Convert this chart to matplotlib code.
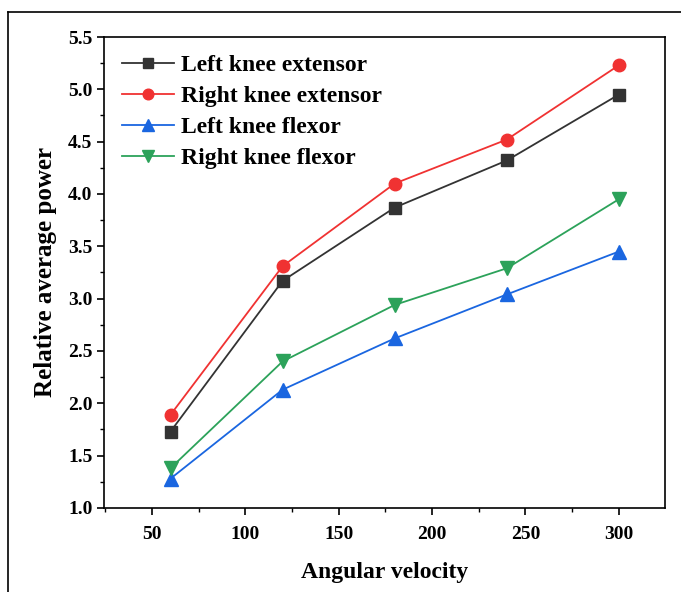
import matplotlib
matplotlib.use('Agg')
import matplotlib.pyplot as plt
from matplotlib.lines import Line2D
from matplotlib.ticker import MultipleLocator

velocity = [60, 120, 180, 240, 300]
left_ext = [1.73, 3.17, 3.87, 4.32, 4.95]
right_ext = [1.89, 3.31, 4.10, 4.52, 5.23]
left_flex = [1.28, 2.13, 2.62, 3.04, 3.45]
right_flex = [1.38, 2.40, 2.94, 3.29, 3.95]

plt.rcParams['font.family'] = 'Liberation Serif'
plt.rcParams['font.weight'] = 'bold'

fig = plt.figure(figsize=(6.81, 5.92), dpi=100)
ax = fig.add_axes([0.153, 0.142, 0.823, 0.7955])

ax.plot(velocity, left_ext, color='#333333', marker='s', markersize=8, lw=1.3, label='Left knee extensor')
ax.plot(velocity, right_ext, color='#f03232', marker='o', markersize=9, lw=1.3, label='Right knee extensor')
ax.plot(velocity, left_flex, color='#1a66e0', marker='^', markersize=10, lw=1.3, label='Left knee flexor')
ax.plot(velocity, right_flex, color='#2ca25a', marker='v', markersize=10, lw=1.3, label='Right knee flexor')

ax.set_xlim(24.5, 324.5)
ax.set_ylim(1.0, 5.5)
ax.xaxis.set_major_locator(MultipleLocator(50))
ax.xaxis.set_minor_locator(MultipleLocator(25))
ax.yaxis.set_major_locator(MultipleLocator(0.5))
ax.yaxis.set_minor_locator(MultipleLocator(0.25))
ax.yaxis.set_major_formatter('{x:.1f}')
ax.tick_params(which='major', direction='out', length=5, width=1.2, labelsize=14)
ax.tick_params(axis='x', which='major', pad=8)
ax.tick_params(which='minor', direction='out', length=3, width=1.0)
for s in ax.spines.values():
    s.set_linewidth(1.2)

ax.set_xlabel('Angular velocity', fontsize=17, fontweight='bold', labelpad=14)
ax.set_ylabel('Relative average power', fontsize=18, fontweight='bold', labelpad=8)

ax.legend(loc='upper left', frameon=False, fontsize=17, handlelength=2.2,
          borderaxespad=0.35, labelspacing=0.4, handletextpad=0.3, markerscale=0.85)

# outer frame
fig.add_artist(Line2D([8/681, 8/681], [0, 1 - 12/592], color='black', lw=1.2))
fig.add_artist(Line2D([8/681, 1], [1 - 12/592, 1 - 12/592], color='black', lw=1.2))

fig.savefig('out.png', dpi=100)
